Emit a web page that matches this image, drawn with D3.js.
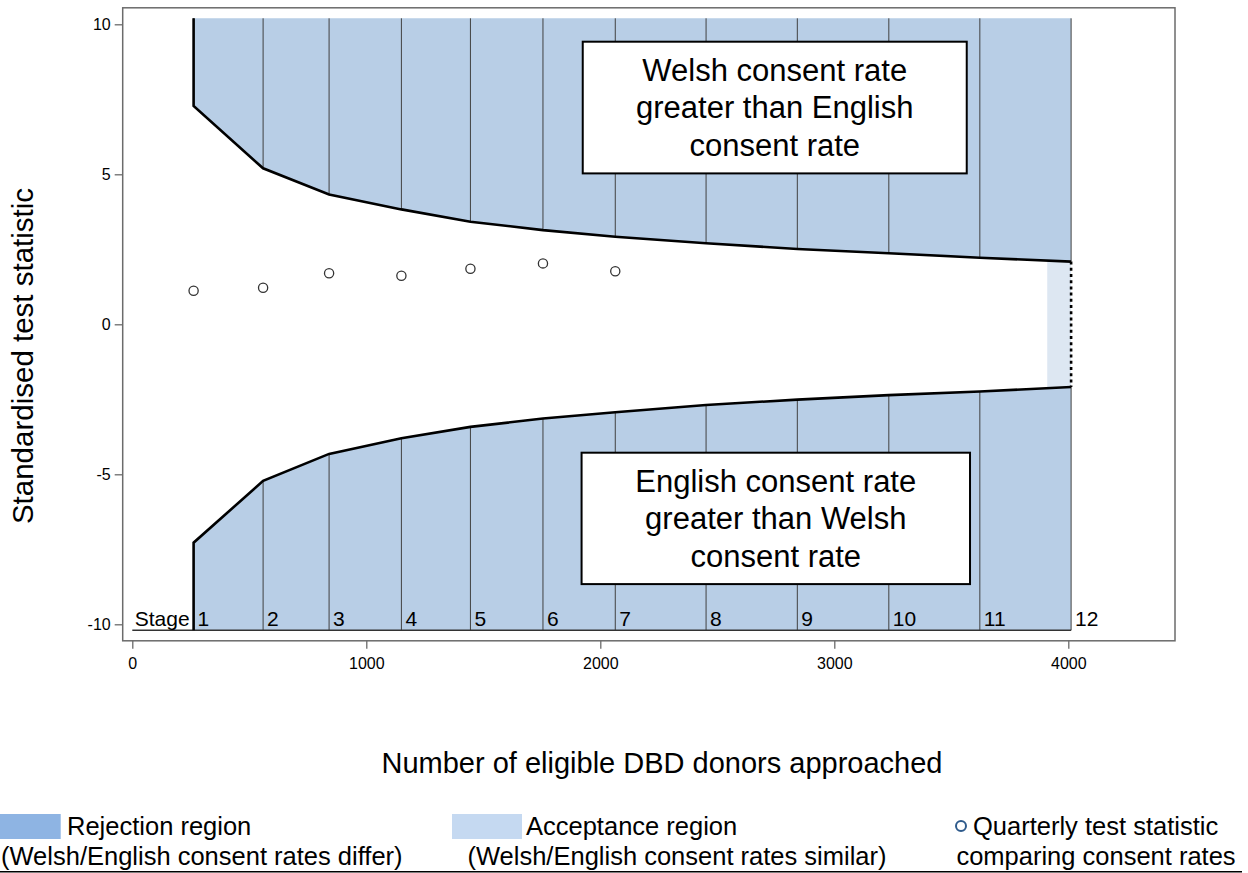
<!DOCTYPE html>
<html>
<head>
<meta charset="utf-8">
<script src="https://cdn.jsdelivr.net/npm/d3@7/dist/d3.min.js"></script>
<style>
  html, body { margin: 0; padding: 0; background: #fff; }
  svg { display: block; }
  text { font-family: "Liberation Sans", Arial, sans-serif; fill: #000; }
</style>
</head>
<body>
<svg id="chart" width="1248" height="873"></svg>
<script>
// ---------- data ----------
const stageNumbers = [1, 2, 3, 4, 5, 6, 7, 8, 9, 10, 11, 12];
const stageDonors = [262, 559, 841, 1150, 1445, 1755, 2064, 2452, 2842, 3233, 3622, 4012];
const upperBoundary = [7.28, 5.20, 4.33, 3.83, 3.42, 3.14, 2.92, 2.70, 2.51, 2.37, 2.22, 2.09];
const lowerBoundary = [-7.28, -5.22, -4.32, -3.80, -3.42, -3.14, -2.93, -2.69, -2.51, -2.36, -2.24, -2.09];
const quarterlyDonors = [262, 559, 841, 1150, 1445, 1755, 2064];
const quarterlyStat = [1.12, 1.22, 1.70, 1.62, 1.85, 2.03, 1.77];
const regionLimit = 10.2;
const acceptanceStart = 3910;
const xTicks = [0, 1000, 2000, 3000, 4000];
const yTicks = [-10, -5, 0, 5, 10];
const welshBox = { x0: 1925, x1: 3566, y0: 9.42, y1: 5.03,
  lines: ["Welsh consent rate", "greater than English", "consent rate"] };
const englishBox = { x0: 1920, x1: 3580, y0: -4.28, y1: -8.66,
  lines: ["English consent rate", "greater than Welsh", "consent rate"] };
const legendItems = [
  { kind: "swatch", color: "#8eb4e3", line1: "Rejection region", line2: "(Welsh/English consent rates differ)" },
  { kind: "swatch", color: "#c5d9f1", line1: "Acceptance region", line2: "(Welsh/English consent rates similar)" },
  { kind: "marker", color: "#2f5b8c", line1: "Quarterly test statistic", line2: "comparing consent rates" }
];

// ---------- layout ----------
const plot = { left: 122.7, right: 1175, top: 7.8, bottom: 640.8 };
const x = d3.scaleLinear().domain([-41, 4456]).range([plot.left, plot.right]);
const y = d3.scaleLinear().domain([-10.55, 10.55]).range([plot.bottom, plot.top]);

const svg = d3.select("#chart");
const fillReject = "#b8cee6";
const fillAccept = "#dde7f2";

const stages = stageNumbers.map((s, i) => ({ s, n: stageDonors[i], u: upperBoundary[i], l: lowerBoundary[i] }));
const last = stages[stages.length - 1];

// rejection regions
const upperArea = d3.area().x(d => x(d.n)).y0(y(regionLimit)).y1(d => y(d.u));
const lowerArea = d3.area().x(d => x(d.n)).y0(y(-regionLimit)).y1(d => y(d.l));
svg.append("path").attr("d", upperArea(stages)).attr("fill", fillReject);
svg.append("path").attr("d", lowerArea(stages)).attr("fill", fillReject);

// acceptance region
svg.append("rect")
  .attr("x", x(acceptanceStart)).attr("width", x(last.n) - x(acceptanceStart))
  .attr("y", y(last.u)).attr("height", y(last.l) - y(last.u))
  .attr("fill", fillAccept);

// stage lines
stages.forEach(d => {
  svg.append("line").attr("x1", x(d.n)).attr("x2", x(d.n))
    .attr("y1", y(regionLimit)).attr("y2", y(d.u))
    .attr("stroke", "#404040").attr("stroke-width", 1);
  svg.append("line").attr("x1", x(d.n)).attr("x2", x(d.n))
    .attr("y1", y(d.l)).attr("y2", y(-regionLimit))
    .attr("stroke", "#404040").attr("stroke-width", 1);
});

// baseline under stage labels
svg.append("line").attr("x1", x(0)).attr("x2", x(last.n))
  .attr("y1", y(-regionLimit)).attr("y2", y(-regionLimit))
  .attr("stroke", "#333").attr("stroke-width", 1.5);

// boundaries
const line = d3.line().x(d => x(d[0])).y(d => y(d[1]));
const upperPts = [[stages[0].n, regionLimit]].concat(stages.map(d => [d.n, d.u]));
const lowerPts = [[stages[0].n, -regionLimit]].concat(stages.map(d => [d.n, d.l]));
svg.append("path").attr("d", line(upperPts)).attr("fill", "none").attr("stroke", "#000").attr("stroke-width", 2.6);
svg.append("path").attr("d", line(lowerPts)).attr("fill", "none").attr("stroke", "#000").attr("stroke-width", 2.6);
svg.append("path").attr("d", line([[last.n, last.u], [last.n, last.l]]))
  .attr("fill", "none").attr("stroke", "#000").attr("stroke-width", 2.6).attr("stroke-dasharray", "3,3.2");

// stage labels
svg.append("text").attr("x", x(stages[0].n) - 4).attr("y", y(-regionLimit) - 4.5)
  .attr("text-anchor", "end").attr("font-size", 21).text("Stage");
stages.forEach(d => {
  svg.append("text").attr("x", x(d.n) + 4).attr("y", y(-regionLimit) - 4.5)
    .attr("font-size", 21).text(d.s);
});

// quarterly test statistics
svg.selectAll("circle.q").data(quarterlyDonors.map((n, i) => ({ n, v: quarterlyStat[i] })))
  .enter().append("circle").attr("class", "q")
  .attr("cx", d => x(d.n)).attr("cy", d => y(d.v)).attr("r", 4.6)
  .attr("fill", "#fff").attr("stroke", "#333").attr("stroke-width", 1.3);

// annotation boxes
[welshBox, englishBox].forEach(b => {
  svg.append("rect").attr("x", x(b.x0)).attr("y", y(b.y0))
    .attr("width", x(b.x1) - x(b.x0)).attr("height", y(b.y1) - y(b.y0))
    .attr("fill", "#fff").attr("stroke", "#000").attr("stroke-width", 2);
  const cx = (x(b.x0) + x(b.x1)) / 2;
  b.lines.forEach((t, i) => {
    svg.append("text").attr("x", cx).attr("y", y(b.y0) + 39 + i * 37.5)
      .attr("text-anchor", "middle").attr("font-size", 31).text(t);
  });
});

// frame
svg.append("rect").attr("x", plot.left).attr("y", plot.top)
  .attr("width", plot.right - plot.left).attr("height", plot.bottom - plot.top)
  .attr("fill", "none").attr("stroke", "#6b6b6b").attr("stroke-width", 1.5);

// axes
const fmt = d => String(d);
const xAxis = svg.append("g").attr("transform", `translate(0,${plot.bottom})`)
  .call(d3.axisBottom(x).tickValues(xTicks).tickFormat(fmt).tickSize(8).tickPadding(9).tickSizeOuter(0));
const yAxis = svg.append("g").attr("transform", `translate(${plot.left},0)`)
  .call(d3.axisLeft(y).tickValues(yTicks).tickFormat(fmt).tickSize(8).tickPadding(4).tickSizeOuter(0));
[xAxis, yAxis].forEach(g => {
  g.select(".domain").remove();
  g.selectAll(".tick line").attr("stroke", "#6b6b6b").attr("stroke-width", 1.3);
  g.selectAll(".tick text").attr("font-size", 16).attr("fill", "#000")
    .attr("font-family", '"Liberation Sans", Arial, sans-serif');
});

// axis titles
svg.append("text").attr("transform", "translate(33,356) rotate(-90)")
  .attr("text-anchor", "middle").attr("font-size", 29.5).text("Standardised test statistic");
svg.append("text").attr("x", 662).attr("y", 773)
  .attr("text-anchor", "middle").attr("font-size", 29).text("Number of eligible DBD donors approached");

// legend
const legendRow1 = 835, legendRow2 = 864.5, legendFont = 25.5;
const leg = svg.append("g");
// item 1
leg.append("rect").attr("x", -10).attr("y", 814).attr("width", 70.7).attr("height", 25).attr("fill", legendItems[0].color);
leg.append("text").attr("x", 67).attr("y", legendRow1).attr("font-size", legendFont).text(legendItems[0].line1);
leg.append("text").attr("x", 1).attr("y", legendRow2).attr("font-size", legendFont).text(legendItems[0].line2);
// item 2
leg.append("rect").attr("x", 452).attr("y", 814).attr("width", 70).attr("height", 25).attr("fill", legendItems[1].color);
leg.append("text").attr("x", 526).attr("y", legendRow1).attr("font-size", legendFont).text(legendItems[1].line1);
leg.append("text").attr("x", 677).attr("y", legendRow2).attr("text-anchor", "middle").attr("font-size", legendFont).text(legendItems[1].line2);
// item 3
leg.append("circle").attr("cx", 961).attr("cy", 826).attr("r", 5).attr("fill", "none")
  .attr("stroke", legendItems[2].color).attr("stroke-width", 2);
leg.append("text").attr("x", 973).attr("y", legendRow1).attr("font-size", legendFont).text(legendItems[2].line1);
leg.append("text").attr("x", 1096).attr("y", legendRow2).attr("text-anchor", "middle").attr("font-size", legendFont).text(legendItems[2].line2);

svg.append("line").attr("x1", 0).attr("x2", 1242).attr("y1", 871.8).attr("y2", 871.8)
  .attr("stroke", "#000").attr("stroke-width", 1.6);
</script>
</body>
</html>
